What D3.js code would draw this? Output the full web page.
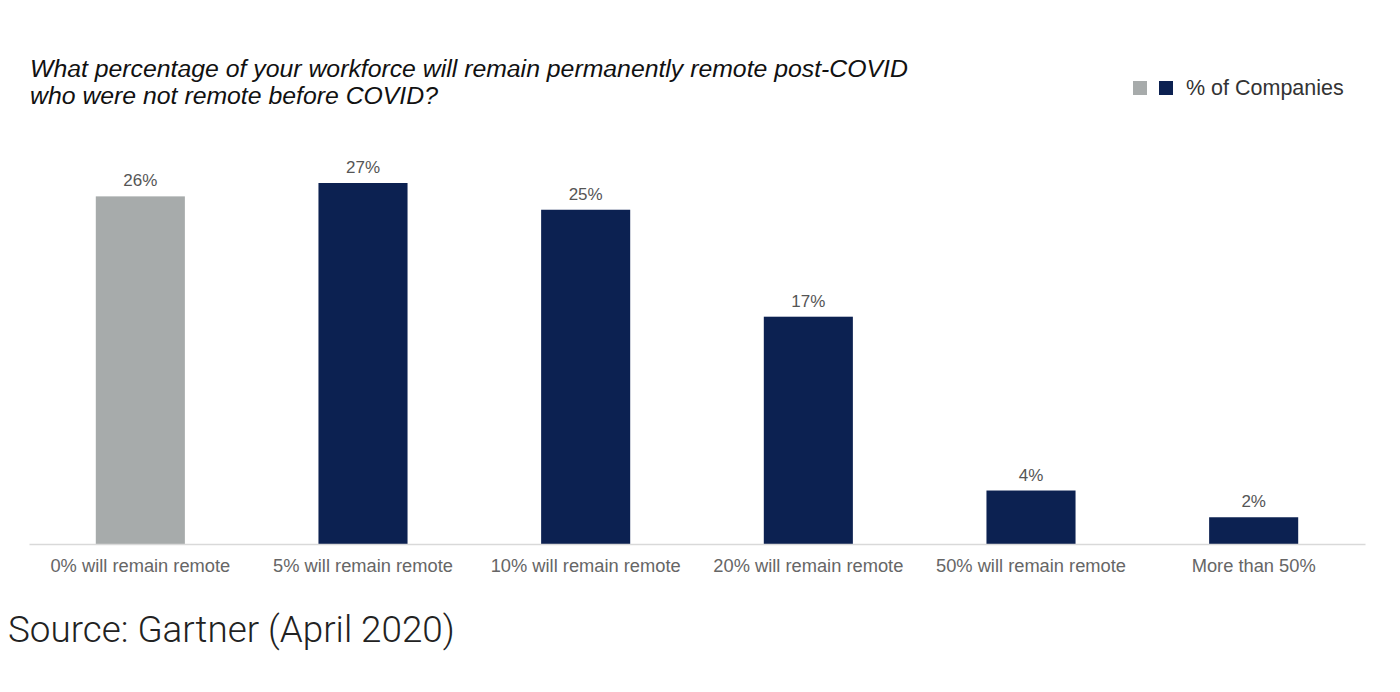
<!DOCTYPE html>
<html><head><meta charset="utf-8">
<script src="https://cdn.jsdelivr.net/npm/d3@7"></script>
<style>body{margin:0;background:#fff;}svg{display:block;}</style>
</head><body>
<svg id="chart" width="1400" height="692"></svg>
<script>
const categories = ["0% will remain remote","5% will remain remote","10% will remain remote","20% will remain remote","50% will remain remote","More than 50%"];
const values = [26,27,25,17,4,2];
const barColors = ["#a7abab","#0c2151","#0c2151","#0c2151","#0c2151","#0c2151"];
const titleLines = ["What percentage of your workforce will remain permanently remote post-COVID","who were not remote before COVID?"];
const legendLabel = "% of Companies";
const sourceText = "Source: Gartner (April 2020)";

const svg = d3.select("#chart");
const x = d3.scaleBand().domain(categories).range([29,1365]).paddingInner(0.6).paddingOuter(0.3);
const y = d3.scaleLinear().domain([0,27]).range([544,183]);

svg.append("g").selectAll("text").data(titleLines).join("text")
  .attr("x",30).attr("y",(d,i)=>77+i*27)
  .attr("font-family","Liberation Sans, Arial, sans-serif").attr("font-style","italic")
  .attr("font-size",24.8).attr("fill","#111").text(d=>d);

// legend
const lg = svg.append("g");
lg.append("rect").attr("x",1133).attr("y",81).attr("width",14).attr("height",14).attr("fill","#a7abab");
lg.append("rect").attr("x",1159).attr("y",81).attr("width",14).attr("height",14).attr("fill","#0c2151");
lg.append("text").attr("x",1186).attr("y",95).attr("font-family","Liberation Sans, Arial, sans-serif")
  .attr("font-size",21.5).attr("fill","#333").text(legendLabel);

svg.append("g").selectAll("rect").data(values).join("rect")
  .attr("x",(d,i)=>x(categories[i])).attr("width",x.bandwidth())
  .attr("y",d=>y(d)).attr("height",d=>y(0)-y(d))
  .attr("fill",(d,i)=>barColors[i]);

svg.append("g").selectAll("text").data(values).join("text")
  .attr("x",(d,i)=>x(categories[i])+x.bandwidth()/2).attr("y",d=>y(d)-10)
  .attr("text-anchor","middle").attr("font-family","Liberation Sans, Arial, sans-serif")
  .attr("font-size",17).attr("fill","#555").text(d=>d+"%");

const axis = svg.append("g").attr("transform","translate(0,544)")
  .call(d3.axisBottom(x).tickSize(0).tickPadding(15));
axis.select(".domain").attr("stroke","#d9d9d9").attr("stroke-width",1.5);
axis.selectAll("text").attr("font-family","Liberation Sans, Arial, sans-serif")
  .attr("font-size",18.3).attr("fill","#666");

svg.append("text").attr("x",8).attr("y",642).attr("font-family","Roboto, sans-serif")
  .attr("font-weight",300).attr("font-size",36.8).attr("fill","#222").text(sourceText);
</script>
</body></html>
